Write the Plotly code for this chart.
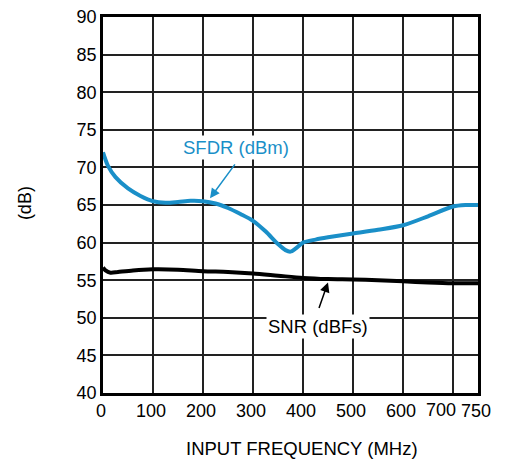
import plotly.graph_objects as go

# input frequency (MHz) and measured values (dB)
sfdr_freq = [0, 10, 25, 50, 75, 100, 125, 150, 175, 200, 225, 250, 275, 300, 325,
             350, 365, 375, 385, 400, 425, 450, 500, 550, 600, 650, 700, 725, 750]
sfdr_db = [72.0, 70.2, 68.7, 67.2, 66.2, 65.5, 65.3, 65.4, 65.55, 65.5, 65.2, 64.6, 63.8, 62.9, 61.5,
           59.8, 59.0, 58.8, 59.2, 60.0, 60.4, 60.7, 61.2, 61.7, 62.3, 63.5, 64.8, 65.0, 65.0]

snr_freq = [0, 5, 15, 30, 60, 100, 150, 200, 250, 300, 350, 400, 450, 500, 550, 600, 650, 700, 750]
snr_db = [56.7, 56.3, 56.0, 56.1, 56.3, 56.45, 56.4, 56.2, 56.1, 55.9, 55.6, 55.3, 55.15, 55.1,
          55.0, 54.85, 54.7, 54.6, 54.6]

x_ticks = [0, 100, 200, 300, 400, 500, 600, 700, 750]
x_labels = ['0', '100', '200', '300', '400', '500', '600', '700', '750']
y_ticks = list(range(40, 95, 5))

blue = '#1a8fc8'
font = 'Liberation Sans, Arial, sans-serif'

fig = go.Figure()
fig.add_trace(go.Scatter(x=sfdr_freq, y=sfdr_db, mode='lines',
                         line=dict(color=blue, width=4, shape='spline', smoothing=0.8)))
fig.add_trace(go.Scatter(x=snr_freq, y=snr_db, mode='lines',
                         line=dict(color='black', width=4, shape='spline', smoothing=0.8)))

# labels and arrows
fig.add_annotation(x=266, y=72.6, text='SFDR (dBm)', showarrow=False,
                   font=dict(color=blue, size=18.5, family=font), bgcolor='white')
fig.add_annotation(x=214, y=65.9, ax=266, ay=70.6, axref='x', ayref='y', text='',
                   showarrow=True, arrowhead=2, arrowsize=1.3, arrowwidth=1.5, arrowcolor=blue)
fig.add_annotation(x=430, y=48.9, text='SNR (dBFs)', showarrow=False,
                   font=dict(color='black', size=18.5, family=font), bgcolor='white')
fig.add_annotation(x=450, y=54.7, ax=431, ay=51.1, axref='x', ayref='y', text='',
                   showarrow=True, arrowhead=2, arrowsize=1.3, arrowwidth=1.5, arrowcolor='black')

# the "700" label sits pushed left against its tick, as in the original, so it is drawn on its own
fig.add_annotation(x=x_ticks[7], y=0, xref='x', yref='paper', xanchor='right', yanchor='top',
                   xshift=5, yshift=-5, text=x_labels[7], showarrow=False, font=dict(size=18))

# axis titles
fig.add_annotation(xref='paper', yref='paper', x=-0.208, y=0.505, xanchor='center', yanchor='middle',
                   text='(dB)', textangle=-90, showarrow=False, font=dict(size=18))
fig.add_annotation(xref='paper', yref='paper', x=0.531, y=-0.148, xanchor='center', yanchor='middle',
                   borderpad=0, text='INPUT FREQUENCY (MHz)', showarrow=False, font=dict(size=18.5))

# page body has an 8px margin, so the margins are shifted to land the plot where the reference has it
fig.update_layout(
    width=506, height=461,
    margin=dict(l=95, r=36, t=9, b=76),
    plot_bgcolor='white', paper_bgcolor='white',
    showlegend=False,
    font=dict(family=font, size=18, color='black'),
)
tick_text = [t if v != 700 else '' for v, t in zip(x_ticks, x_labels)]
fig.update_xaxes(range=[0, 750], tickvals=x_ticks, ticktext=tick_text, tickangle=0, automargin=False,
                 ticklabelshift=-2, ticklabeloverflow='allow',
                 showgrid=True, gridcolor='#222', gridwidth=1.5,
                 showline=True, linecolor='black', linewidth=2.5, mirror=True, zeroline=False, ticks='')
fig.update_yaxes(range=[40, 90], tickvals=y_ticks, automargin=False, ticklabeloverflow='allow',
                 showgrid=True, gridcolor='#222', gridwidth=1.5,
                 showline=True, linecolor='black', linewidth=2.5, mirror=True, zeroline=False, ticks='')

fig.write_html('out.html')
